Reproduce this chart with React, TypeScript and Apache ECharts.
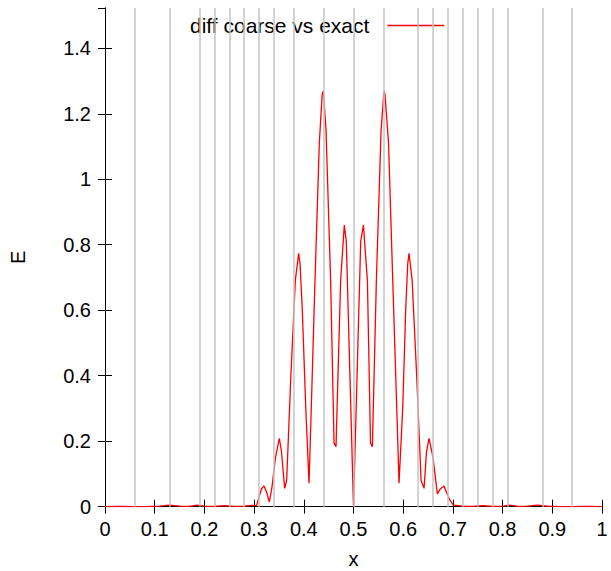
import React, { useEffect, useRef } from "react";
import * as echarts from "echarts";

const xValues = [
  0, 0.03, 0.06, 0.09, 0.11, 0.13, 0.15, 0.17, 0.185, 0.2, 0.22, 0.24, 0.26, 0.28, 0.295, 0.3052,
  0.31, 0.315, 0.32, 0.325, 0.3306, 0.336, 0.343, 0.3507, 0.355, 0.3615, 0.3655, 0.3736, 0.383,
  0.3897, 0.3925, 0.397, 0.404, 0.4105, 0.416, 0.4225, 0.4312, 0.437, 0.4393, 0.4447, 0.454,
  0.4608, 0.4648, 0.4741, 0.4815, 0.4855, 0.5,
  0.5145, 0.52, 0.528, 0.5342, 0.538, 0.546, 0.5555, 0.5614, 0.5633, 0.5705, 0.579, 0.586,
  0.5916, 0.599, 0.605, 0.609, 0.6117, 0.618, 0.6275, 0.636, 0.642, 0.647, 0.652, 0.66, 0.6687,
  0.675, 0.682, 0.688, 0.694, 0.7008, 0.72, 0.74, 0.76, 0.78, 0.8, 0.815, 0.83, 0.85, 0.87, 0.89,
  0.91, 0.94, 0.97, 1,
];
const eValues = [
  0, 0.001, 0, 0.001, 0.002, 0.005, 0.002, 0.001, 0.005, 0.002, 0.001, 0.003, 0.001, 0.002, 0.004, 0.004,
  0.03, 0.055, 0.063, 0.045, 0.015, 0.06, 0.15, 0.209, 0.17, 0.056, 0.08, 0.387, 0.692,
  0.774, 0.74, 0.6, 0.3, 0.072, 0.35, 0.69, 1.11, 1.26, 1.27, 1.15, 0.69,
  0.195, 0.183, 0.69, 0.86, 0.81, 0,
  0.81, 0.86, 0.69, 0.195, 0.183, 0.69, 1.15, 1.27, 1.26, 1.11, 0.69, 0.35,
  0.072, 0.3, 0.6, 0.74, 0.774, 0.692, 0.387, 0.08, 0.056, 0.17, 0.209, 0.15, 0.039,
  0.055, 0.063, 0.04, 0.02, 0.005, 0.002, 0.001, 0.003, 0.001, 0.002, 0.005, 0.001, 0.002, 0.005, 0.002,
  0.001, 0, 0.001, 0,
];
const meshLines = [
  0.0625, 0.125, 0.1875, 0.21875, 0.25, 0.28125, 0.3125, 0.34375, 0.375, 0.4375, 0.5,
  0.5625, 0.625, 0.65625, 0.6875, 0.71875, 0.75, 0.78125, 0.8125, 0.875, 0.9375,
];
const seriesName = "diff coarse vs exact";

const FONT = "Liberation Sans, Arial, sans-serif";

export default function App() {
  const ref = useRef<HTMLDivElement>(null);
  useEffect(() => {
    if (!ref.current) return;
    const chart = echarts.init(ref.current, null, { renderer: "svg" });
    const data = xValues.map((x, i) => [x, eValues[i]]);
    const axisLine = { show: true, lineStyle: { color: "#000", width: 1 } };
    const axisTick = { show: true, inside: true, length: 7, lineStyle: { color: "#000", width: 1 } };
    chart.setOption({
      animation: false,
      grid: {
        left: 105,
        right: 9,
        top: 8,
        bottom: 64.3,
        containLabel: false,
        outerBoundsMode: "none",
      },
      legend: {
        left: 185,
        top: 10,
        align: "right",
        itemWidth: 57,
        itemHeight: 1.5,
        icon: "rect",
        data: [{ name: seriesName, icon: "rect" }],
        itemStyle: { color: "#ff0000" },
        formatter: (name: string) => `{t|${name}}`,
        textStyle: {
          fontFamily: FONT,
          fontSize: 21,
          color: "#000",
          rich: {
            t: { fontFamily: FONT, fontSize: 21, color: "#000", padding: [0, 13, 0, 0] },
          },
        },
      },
      xAxis: [
        {
          type: "value",
          position: "bottom",
          min: 0,
          max: 1,
          interval: 0.1,
          axisLine,
          axisTick,
          splitLine: { show: false },
          axisLabel: { fontFamily: FONT, fontSize: 20, color: "#000", margin: 12 },
          name: "x",
          nameLocation: "middle",
          nameGap: 42,
          nameTextStyle: { fontFamily: FONT, fontSize: 20, color: "#000" },
        },
        {
          type: "value",
          position: "top",
          min: 0,
          max: 1,
          interval: 0.1,
          axisLine,
          axisTick,
          splitLine: { show: false },
          axisLabel: { show: false },
        },
      ],
      yAxis: [
        {
          type: "value",
          position: "left",
          min: 0,
          max: 1.523,
          interval: 0.2,
          axisLine,
          axisTick,
          splitLine: { show: false },
          axisLabel: { fontFamily: FONT, fontSize: 20, color: "#000", margin: 14, showMaxLabel: false },
          name: "E",
          nameLocation: "middle",
          nameGap: 77,
          nameTextStyle: { fontFamily: FONT, fontSize: 20, color: "#000" },
        },
        {
          type: "value",
          position: "right",
          min: 0,
          max: 1.523,
          interval: 0.2,
          axisLine,
          axisTick,
          splitLine: { show: false },
          axisLabel: { show: false },
        },
      ],
      series: [
        {
          type: "line",
          name: "mesh",
          data: [],
          z: 1,
          silent: true,
          markLine: {
            silent: true,
            symbol: ["none", "none"],
            label: { show: false },
            lineStyle: { color: "#c4c4c4", width: 1.5, type: "solid" },
            data: meshLines.map((x) => ({ xAxis: x })),
          },
        },
        {
          type: "line",
          name: seriesName,
          data,
          symbol: "none",
          showSymbol: false,
          z: 3,
          lineStyle: { color: "#ff0000", width: 1.3 },
          itemStyle: { color: "#ff0000" },
        },
      ],
    });
    return () => chart.dispose();
  }, []);
  return (
    <div
      ref={ref}
      style={{ position: "absolute", left: 0, top: 0, width: 611, height: 571 }}
    />
  );
}
